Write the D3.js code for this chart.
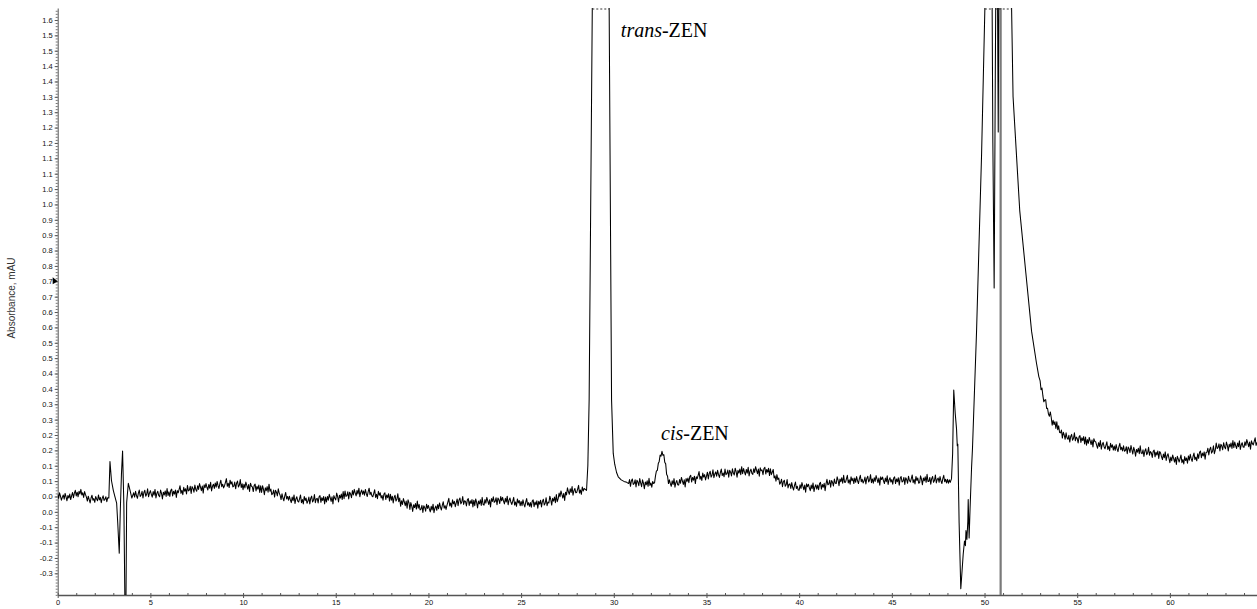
<!DOCTYPE html>
<html>
<head>
<meta charset="utf-8">
<script src="https://cdn.jsdelivr.net/npm/d3@7"></script>
<style>
  html, body { margin: 0; padding: 0; background: #fff; }
  svg { display: block; }
</style>
</head>
<body>
<svg id="chart" width="1257" height="609"></svg>
<script>
// ===== DATA (absorbance in thousandths of the axis unit) =====
const sampleStep = 0.05; // min between samples of the noisy baseline runs

const baselineAStart = 0.0;
const baselineA = [57, 44, 62, 51, 38, 47, 55, 41, 60, 49, 36, 53, 45, 58, 40, 52, 63, 46,
  61, 70, 52, 64, 49, 67, 58, 73, 55, 62, 47, 66, 56,
  48, 35, 51, 40, 29, 45, 54, 38, 43, 31, 50, 42, 36, 55, 39, 47, 30, 44, 52, 37, 41, 49, 33, 46];

const injectionSpikes = [[2.76, 45], [2.82, 164], [2.9, 102], [3.0, 70], [3.09, 49], [3.18, 28],
  [3.24, -37], [3.32, -135], [3.38, 10], [3.44, 124], [3.5, 198], [3.57, 20], [3.63, -320],
  [3.68, -320], [3.72, 30], [3.81, 93], [3.9, 71], [4.0, 45]];

const baselineBStart = 4.1;
const baselineB = [62, 48, 67, 53, 44, 60, 71, 50,
  54, 67, 45, 63, 70, 51, 57, 75, 49, 61,
  69, 57, 48, 66, 54, 73, 45, 60, 67, 53,
  49, 71, 60, 42, 64, 55, 68, 50, 76, 53,
  65, 50, 70, 74, 52, 67, 58, 71, 47, 69,
  62, 73, 85, 60, 70, 56, 80, 67, 75, 58,
  86, 68, 71, 83, 60, 82, 76, 64, 87, 73,
  67, 85, 73, 92, 81, 69, 84, 61, 88, 79,
  92, 80, 71, 89, 77, 96, 68, 83, 90, 76,
  94, 80, 99, 85, 76, 92, 103, 82, 90, 78,
  85, 96, 108, 83, 93, 79, 103, 90, 98, 81,
  84, 97, 75, 93, 100, 81, 87, 105, 79, 91,
  72, 90, 78, 97, 86, 74, 89, 66, 93, 84,
  81, 66, 86, 90, 68, 83, 74, 87, 63, 85,
  63, 85, 74, 56, 78, 69, 82, 64, 90, 67,
  74, 56, 59, 71, 48, 70, 64, 52, 75, 61,
  54, 40, 59, 45, 36, 52, 63, 42, 50, 38,
  51, 39, 30, 48, 36, 55, 27, 42, 49, 35,
  32, 43, 55, 30, 40, 26, 50, 37, 45, 28,
  35, 48, 26, 44, 51, 32, 38, 56, 30, 42,
  44, 29, 49, 53, 31, 46, 37, 50, 26, 48,
  32, 50, 38, 57, 46, 34, 49, 26, 53, 44,
  39, 61, 50, 32, 54, 45, 58, 40, 66, 43,
  68, 50, 53, 65, 42, 64, 58, 46, 69, 55,
  73, 61, 52, 70, 58, 77, 49, 64, 71, 57,
  68, 54, 73, 59, 50, 66, 77, 56, 64, 52,
  49, 60, 72, 47, 57, 43, 67, 54, 62, 45,
  53, 38, 58, 62, 40, 55, 46, 59, 35, 57,
  38, 51, 29, 47, 54, 35, 41, 59, 33, 45,
  18, 36, 24, 43, 32, 20, 35, 12, 39, 30,
  8, 30, 19, 1, 23, 14, 27, 9, 35, 12,
  24, 6, 9, 21, -2, 20, 14, 2, 25, 11,
  21, 9, 0, 18, 6, 25, -3, 12, 19, 5,
  24, 10, 29, 15, 6, 22, 33, 12, 20, 8,
  21, 32, 44, 19, 29, 15, 39, 26, 34, 17,
  29, 42, 20, 38, 45, 26, 32, 50, 24, 36,
  34, 19, 39, 43, 21, 36, 27, 40, 16, 38,
  20, 42, 31, 13, 35, 26, 39, 21, 47, 24,
  22, 40, 28, 47, 36, 24, 39, 16, 43, 34,
  49, 31, 34, 46, 23, 45, 39, 27, 50, 36,
  47, 35, 26, 44, 32, 51, 23, 38, 45, 31,
  24, 35, 47, 22, 32, 18, 42, 29, 37, 20,
  34, 20, 39, 25, 16, 32, 43, 22, 30, 18,
  30, 15, 35, 39, 17, 32, 23, 36, 12, 34,
  25, 38, 16, 34, 41, 22, 28, 46, 20, 32,
  29, 51, 40, 22, 44, 35, 48, 30, 56, 33,
  43, 61, 49, 68, 57, 45, 60, 37, 64, 55,
  78, 66, 57, 75, 63, 82, 54, 69, 76, 62,
  63, 74, 86, 61, 71, 57, 81, 68, 76];

const transPeak = [[28.53, 70], [28.6, 150], [28.67, 364], [28.84, 1640], [29.0, 2500],
  [29.3, 3200], [29.6, 2500], [29.75, 1640], [29.88, 364], [29.97, 190], [30.05, 155],
  [30.15, 128], [30.24, 114], [30.4, 104], [30.55, 99], [30.7, 96]];

const baselineCStart = 30.8;
const baselineC = [92, 105, 83, 101,
  107, 89, 92, 104, 81, 103, 97, 85, 108, 94,
  82, 104, 93, 75, 97, 88, 101, 83, 109, 86,
  94, 80, 99, 92, 95, 117, 133, 135, 157, 164,
  185, 181, 197, 184, 186, 161, 156, 122, 116, 92,
  104, 92, 83, 101, 89, 108, 80, 95, 102, 88,
  87, 105, 93, 112, 101, 89, 104, 81, 108, 99,
  110, 95, 115, 119, 97, 112, 103, 116, 92, 114,
  108, 119, 131, 106, 116, 102, 126, 113, 121, 104,
  116, 129, 107, 125, 132, 113, 119, 137, 111, 123,
  130, 116, 135, 121, 112, 128, 139, 118, 126, 114,
  139, 121, 124, 136, 113, 135, 129, 117, 140, 126,
  120, 142, 131, 113, 135, 126, 139, 121, 147, 124,
  141, 129, 120, 138, 126, 145, 117, 132, 139, 125,
  122, 140, 128, 147, 136, 124, 139, 116, 143, 134,
  136, 121, 141, 145, 123, 138, 129, 142, 118, 140,
  121, 129, 138, 110, 117, 100, 121, 105, 110, 90,
  95, 106, 82, 98, 103, 83, 88, 105, 78, 89,
  91, 76, 95, 80, 71, 86, 97, 76, 83, 71,
  70, 88, 76, 95, 84, 72, 87, 64, 91, 82,
  90, 78, 69, 87, 75, 94, 66, 81, 88, 74,
  87, 72, 92, 96, 74, 89, 80, 93, 69, 91,
  106, 88, 91, 103, 80, 102, 96, 84, 107, 93,
  92, 114, 103, 85, 107, 98, 111, 93, 119, 96,
  96, 107, 119, 94, 104, 90, 114, 101, 109, 92,
  110, 96, 115, 101, 92, 108, 119, 98, 106, 94,
  100, 113, 91, 109, 116, 97, 103, 121, 95, 107,
  93, 111, 99, 118, 107, 95, 110, 87, 114, 105,
  113, 101, 92, 110, 98, 117, 89, 104, 111, 97,
  105, 90, 110, 114, 92, 107, 98, 111, 87, 109,
  115, 97, 100, 112, 89, 111, 105, 93, 116, 102,
  97, 108, 120, 95, 105, 91, 115, 102, 110, 93,
  95, 117, 106, 88, 110, 101, 114, 96, 122, 99,
  99, 112, 90, 108, 115, 96, 102, 120, 94, 106,
  110, 96, 115, 101, 92, 108, 119, 98, 106, 94,
  106, 93, 104];

const matrixPeak = [[48.15, 96], [48.22, 108], [48.28, 190], [48.34, 396], [48.42, 320],
  [48.49, 270], [48.53, 215], [48.56, 220], [48.63, -36], [48.72, -250], [48.78, -200],
  [48.85, -138], [48.92, -95], [48.97, -110], [49.0, -61], [49.05, -90], [49.1, -30],
  [49.12, 40], [49.17, -85], [49.22, 10], [49.3, 142], [49.35, 205], [49.57, 587],
  [49.84, 1160], [50.02, 1640], [50.2, 2600], [50.38, 2000], [50.45, 1200], [50.52, 728],
  [50.58, 1400], [50.64, 2000], [50.7, 1700], [50.74, 1236], [50.78, 1800], [51.0, 2800],
  [51.3, 2600], [51.46, 1640], [51.54, 1350], [51.9, 980], [52.23, 777], [52.54, 587],
  [52.8, 485], [52.93, 440]];

const baselineDStart = 53.0;
const baselineD = [426, 397, 403, 377, 358, 364, 365, 336, 337, 318,
  311, 325, 307, 282, 298, 284, 293, 271, 293, 267,
  280, 258, 257, 266, 240, 259, 250, 236, 257, 241,
  236, 249, 227, 245, 252, 233, 239, 257, 231, 243,
  239, 224, 244, 248, 226, 241, 232, 245, 221, 243,
  217, 235, 223, 242, 231, 219, 234, 211, 238, 229,
  228, 216, 207, 225, 213, 232, 204, 219, 226, 212,
  205, 216, 228, 203, 213, 199, 223, 210, 218, 201,
  214, 200, 219, 205, 196, 212, 223, 202, 210, 198,
  215, 197, 200, 212, 189, 211, 205, 193, 216, 202,
  188, 210, 199, 181, 203, 194, 207, 189, 215, 192,
  189, 202, 180, 198, 205, 186, 192, 210, 184, 196,
  192, 177, 197, 201, 179, 194, 185, 198, 174, 196,
  191, 179, 170, 188, 176, 195, 167, 182, 189, 175,
  160, 178, 166, 185, 174, 162, 177, 154, 181, 172,
  162, 173, 185, 160, 170, 156, 180, 167, 175, 158,
  182, 168, 187, 173, 164, 180, 191, 170, 178, 166,
  189, 174, 194, 198, 176, 191, 182, 195, 171, 193,
  194, 207, 185, 203, 210, 191, 197, 215, 189, 201,
  224, 206, 209, 221, 198, 220, 214, 202, 225, 211,
  205, 227, 216, 198, 220, 211, 224, 206, 232, 209,
  227, 215, 206, 224, 212, 231, 203, 218, 225, 211,
  210, 228, 216, 235, 224, 212, 227, 204, 231, 222,
  218, 229, 241, 216, 226];

const markerTimes = [50.87];

const xTickValues = [0, 5, 10, 15, 20, 25, 30, 35, 40, 45, 50, 55, 60];
const yTickLabels = ["1.6", "1.5", "1.5", "1.4", "1.4", "1.3", "1.3", "1.2", "1.2", "1.1",
  "1.1", "1.0", "1.0", "0.9", "0.9", "0.8", "0.8", "0.7", "0.7", "0.6", "0.6", "0.5", "0.5",
  "0.4", "0.4", "0.3", "0.3", "0.2", "0.2", "0.1", "0.1", "0.0", "0.0", "-0.1", "-0.1",
  "-0.2", "-0.3"];

const peakLabels = [
  { italic: "trans", rest: "-ZEN" },
  { italic: "cis", rest: "-ZEN" }
];

// ===== BUILD TRACE =====
const run = (start, vals) => vals.map((v, i) => [start + i * sampleStep, v]);
const trace = [
  ...run(baselineAStart, baselineA),
  ...injectionSpikes,
  ...run(baselineBStart, baselineB),
  ...transPeak,
  ...run(baselineCStart, baselineC),
  ...matrixPeak,
  ...run(baselineDStart, baselineD)
].map(([t, v]) => ({ t: t, v: v / 1000 }));

// ===== SCALES =====
const svg = d3.select("#chart");
const plotLeft = 57.7, plotRight = 1257, plotTop = 8, plotBottom = 595;

const x = d3.scaleLinear().domain([0, 64.7]).range([plotLeft, plotRight]);
const y = d3.scaleLinear().domain([-0.2705, 1.639]).range([plotBottom, plotTop]);
const yMax = y.domain()[1];

svg.append("defs").append("clipPath")
  .attr("id", "plot-clip")
  .append("rect")
  .attr("x", plotLeft)
  .attr("y", plotTop)
  .attr("width", plotRight - plotLeft)
  .attr("height", plotBottom - plotTop);

// ===== AXES =====
const axisColor = "#555";
const labelFont = "Liberation Sans, Arial, sans-serif";

// minor x ticks every minute (pointing up)
svg.append("g")
  .attr("transform", `translate(0,${plotBottom})`)
  .call(d3.axisBottom(x).tickValues(d3.range(0, 65, 1)).tickSize(-2).tickSizeOuter(0).tickFormat(""))
  .call(g => g.select(".domain").remove())
  .call(g => g.selectAll("line").attr("stroke", axisColor));

const xAxis = svg.append("g")
  .attr("transform", `translate(0,${plotBottom})`)
  .call(d3.axisBottom(x).tickValues(xTickValues).tickSize(3).tickSizeOuter(0).tickPadding(2));
xAxis.select(".domain").attr("stroke", axisColor).attr("stroke-width", 1.5);
xAxis.selectAll("line").attr("stroke", axisColor);
xAxis.selectAll("text")
  .attr("font-family", labelFont)
  .attr("font-size", "7.5px")
  .attr("fill", "#111");

// minor y ticks every 0.01
svg.append("g")
  .attr("transform", `translate(${plotLeft},0)`)
  .call(d3.axisLeft(y).tickValues(d3.range(-0.27, 1.64, 0.01)).tickSize(2).tickSizeOuter(0).tickFormat(""))
  .call(g => g.select(".domain").remove())
  .call(g => g.selectAll("line").attr("stroke", "#777"));

const yTickValues = yTickLabels.map((_, i) => 1.6 - 0.05 * i);
const yAxis = svg.append("g")
  .attr("transform", `translate(${plotLeft},0)`)
  .call(d3.axisLeft(y).tickValues(yTickValues).tickSize(3).tickSizeOuter(0).tickPadding(2)
    .tickFormat((d, i) => yTickLabels[i]));
yAxis.select(".domain").attr("stroke", axisColor);
yAxis.selectAll("line").attr("stroke", axisColor);
yAxis.selectAll("text")
  .attr("font-family", labelFont)
  .attr("font-size", "7.5px")
  .attr("fill", "#111");

svg.append("text")
  .attr("transform", "translate(15,298) rotate(-90)")
  .attr("text-anchor", "middle")
  .attr("font-family", labelFont)
  .attr("font-size", "10px")
  .attr("fill", "#333")
  .text("Absorbance, mAU");

// cursor marker on the y axis
const my = y(yTickValues[17]);
svg.append("path")
  .attr("d", `M${plotLeft - 5},${my - 4} L${plotLeft},${my} L${plotLeft - 5},${my + 3} Z`)
  .attr("fill", "#000");

// ===== TRACE =====
const plot = svg.append("g").attr("clip-path", "url(#plot-clip)");

plot.selectAll(".marker")
  .data(markerTimes)
  .join("line")
  .attr("class", "marker")
  .attr("x1", d => x(d))
  .attr("x2", d => x(d))
  .attr("y1", plotTop)
  .attr("y2", plotBottom)
  .attr("stroke", "#7a7a7a")
  .attr("stroke-width", 2.2);

const line = d3.line()
  .x(d => x(d.t))
  .y(d => y(d.v));

plot.append("path")
  .datum(trace)
  .attr("d", line)
  .attr("fill", "none")
  .attr("stroke", "#000")
  .attr("stroke-width", 1.05)
  .attr("stroke-linejoin", "round");

// off-scale stretches: dotted line along the top edge
const offScale = [];
let enterT = null;
trace.forEach((p, i) => {
  const prev = trace[i - 1];
  if (!prev) return;
  const cross = prev.t + (yMax - prev.v) / (p.v - prev.v) * (p.t - prev.t);
  if (prev.v <= yMax && p.v > yMax) enterT = cross;
  if (prev.v > yMax && p.v <= yMax) offScale.push([enterT, cross]);
});

svg.selectAll(".offscale")
  .data(offScale)
  .join("line")
  .attr("class", "offscale")
  .attr("x1", d => x(d[0]))
  .attr("x2", d => x(d[1]))
  .attr("y1", plotTop + 1)
  .attr("y2", plotTop + 1)
  .attr("stroke", "#333")
  .attr("stroke-width", 1)
  .attr("stroke-dasharray", "2,2");

// ===== PEAK LABELS =====
const labelPos = [[x(30.38), 37], [x(32.55), 440]];
peakLabels.forEach((d, i) => {
  const t = svg.append("text")
    .attr("x", labelPos[i][0])
    .attr("y", labelPos[i][1])
    .attr("font-family", "Liberation Serif, Times New Roman, serif")
    .attr("font-size", "20px")
    .attr("fill", "#000");
  t.append("tspan").attr("font-style", "italic").text(d.italic);
  t.append("tspan").text(d.rest);
});
</script>
</body>
</html>
